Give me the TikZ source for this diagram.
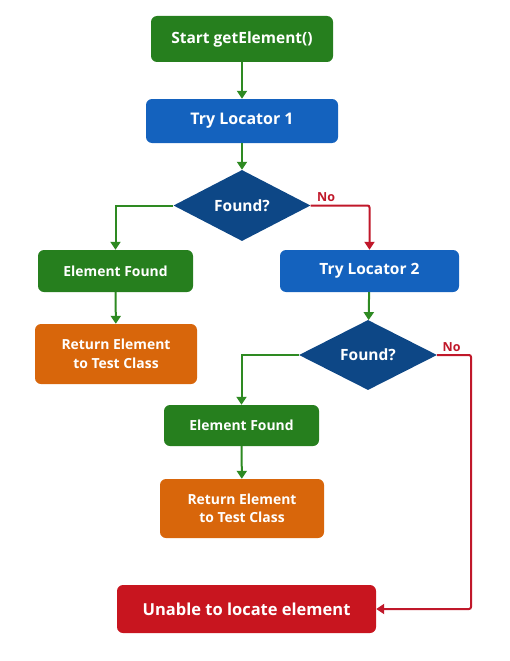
\documentclass[tikz,border=0pt]{standalone}
\usepackage{fontspec}
\setmainfont{Open Sans}
\usetikzlibrary{shapes.geometric,arrows.meta}
\definecolor{cgreen}{HTML}{267F1E}
\definecolor{cblue}{HTML}{1462BE}
\definecolor{cdia}{HTML}{0D4786}
\definecolor{corange}{HTML}{D8660B}
\definecolor{cred}{HTML}{C8151F}
\definecolor{agreen}{HTML}{2E8A22}
\definecolor{ared}{HTML}{C0182A}
\tikzset{
  box/.style={rounded corners=6pt, text=white, font=\bfseries\fontsize{15.5}{19}\selectfont, inner sep=0pt, align=center},
  smallbox/.style={box, font=\bfseries\fontsize{13.9}{18.5}\selectfont},
  dia/.style={diamond, fill=cdia, text=white, font=\bfseries\fontsize{15.5}{19}\selectfont, inner sep=0pt, aspect=1.93},
  garr/.style={draw=agreen, line width=2pt, -{Triangle[length=8pt,width=10pt]}},
  rarr/.style={draw=ared, line width=2pt, -{Triangle[length=8pt,width=10pt]}},
  nolab/.style={text=ared, font=\bfseries\fontsize{12.5}{14}\selectfont}
}
\begin{document}
\begin{tikzpicture}[x=1pt,y=-1pt]
\useasboundingbox (0,0) rectangle (509,661);
\node[box, fill=cgreen, minimum width=182pt, minimum height=46pt] (start) at (242,39) {Start getElement()};
\node[box, fill=cblue, minimum width=192pt, minimum height=44pt, font=\bfseries\fontsize{16}{19}\selectfont] (try1) at (242,121) {Try Locator 1};
\node[dia, minimum width=137pt, minimum height=71pt] (d1) at (242,205.5) {Found?};
\node[smallbox, fill=cgreen, minimum width=155pt, minimum height=42pt] (ef1) at (115.5,271) {Element Found};
\node[smallbox, fill=corange, minimum width=162pt, minimum height=60pt] (ret1) at (116,354) {Return Element\\to Test Class};
\node[box, fill=cblue, minimum width=179pt, minimum height=42pt] (try2) at (369.5,271) {Try Locator 2};
\node[dia, minimum width=138pt, minimum height=70pt] (d2) at (368,355) {Found?};
\node[smallbox, fill=cgreen, minimum width=155pt, minimum height=41pt] (ef2) at (241.5,425.5) {Element Found};
\node[smallbox, fill=corange, minimum width=164pt, minimum height=59pt] (ret2) at (242,508.5) {Return Element\\to Test Class};
\node[box, fill=cred, minimum width=259pt, minimum height=48pt, font=\bfseries\fontsize{16.5}{19}\selectfont] (fail) at (246.5,609) {Unable to locate element};
\coordinate (r2) at (471,609);
\draw[garr] (start) -- (try1);
\draw[garr] (try1) -- (d1);
\draw[garr] (d1.west) -| (ef1.north);
\draw[garr] (ef1) -- (ret1);
\draw[rarr, rounded corners=2pt] (d1.east) -| (try2.north);
\draw[garr] (try2) -- (d2);
\draw[garr] (d2.west) -| (ef2.north);
\draw[garr] (ef2) -- (ret2);
\draw[rarr, rounded corners=2pt] (d2.east) -| (r2) -- (fail.east);
\node[nolab, anchor=south west] (no1) at ([xshift=3pt]d1.east) {No};
\node[nolab, anchor=south west] (no2) at ([xshift=2pt]d2.east) {No};
\end{tikzpicture}
\end{document}
